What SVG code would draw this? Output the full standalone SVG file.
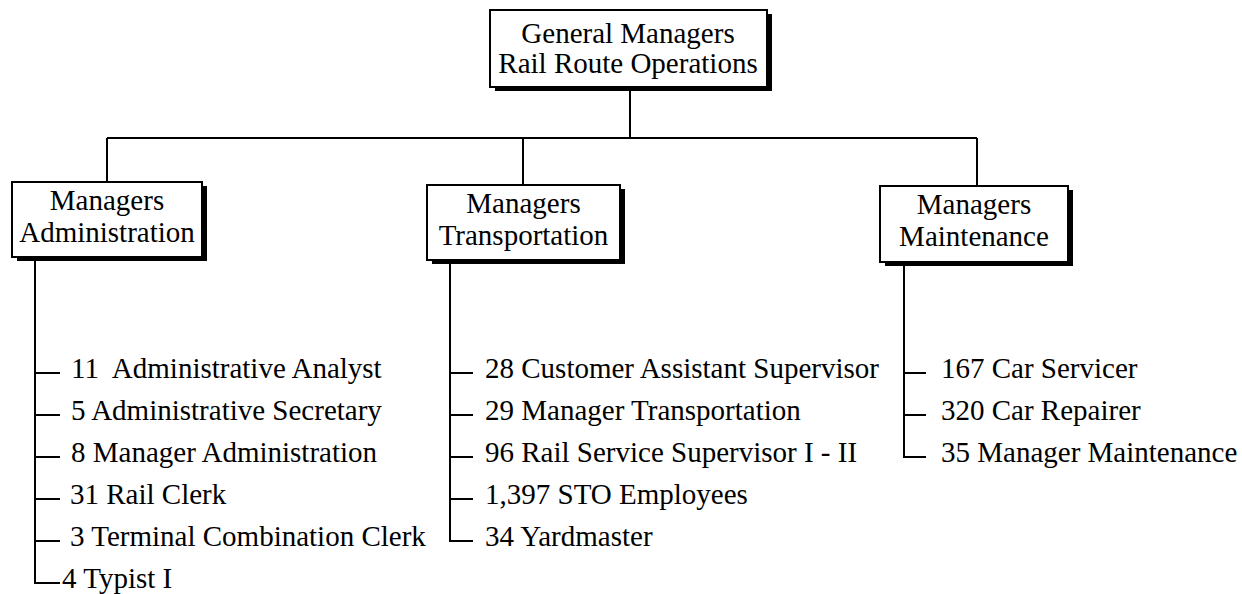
<svg xmlns="http://www.w3.org/2000/svg" width="1242" height="594" viewBox="0 0 1242 594">
<style>
  text { font-family: "Liberation Serif", "Times New Roman", serif; font-size: 29px; fill: #000; }
  .c { text-anchor: middle; }
  .box { fill: #fff; stroke: #000; stroke-width: 2; }
  .shadow { fill: #000; }
  .ln { fill: none; stroke: #000; stroke-width: 2; }
</style>
<rect width="1242" height="594" fill="#fff"/>
<g id="connectors">
  <path class="ln" d="M630 88 V138 M107 138 H977 M107 138 V182 M523 138 V185 M977 138 V186"/>
  <path class="ln" d="M35 257 V583 H60 M35 373 H60 M35 415 H60 M35 457 H60 M35 499 H60 M35 541 H60"/>
  <path class="ln" d="M450 260 V541 H473 M450 373 H473 M450 415 H473 M450 457 H473 M450 499 H473"/>
  <path class="ln" d="M904 262 V457 H926 M904 373 H926 M904 415 H926"/>
</g>
<g id="node-gm">
  <rect class="shadow" x="495" y="14" width="277" height="77"/>
  <rect class="box" x="490" y="10" width="277" height="77"/>
  <text class="c" x="628" y="43">General Managers</text>
  <text class="c" x="628" y="73">Rail Route Operations</text>
</g>
<g id="node-admin">
  <rect class="shadow" x="17" y="186" width="190" height="75"/>
  <rect class="box" x="12" y="182" width="190" height="75"/>
  <text class="c" x="107" y="210">Managers</text>
  <text class="c" x="107" y="242">Administration</text>
</g>
<g id="node-trans">
  <rect class="shadow" x="432" y="189" width="193" height="75"/>
  <rect class="box" x="427" y="185" width="193" height="75"/>
  <text class="c" x="523.5" y="213">Managers</text>
  <text class="c" x="523.5" y="245">Transportation</text>
</g>
<g id="node-maint">
  <rect class="shadow" x="885" y="190" width="188" height="76"/>
  <rect class="box" x="880" y="186" width="188" height="76"/>
  <text class="c" x="974" y="214">Managers</text>
  <text class="c" x="974" y="246">Maintenance</text>
</g>
<g id="list-admin">
  <text x="71" y="378" xml:space="preserve">11  Administrative Analyst</text>
  <text x="71" y="420">5 Administrative Secretary</text>
  <text x="71" y="462">8 Manager Administration</text>
  <text x="70" y="504">31 Rail Clerk</text>
  <text x="70" y="546">3 Terminal Combination Clerk</text>
  <text x="62" y="588">4 Typist I</text>
</g>
<g id="list-trans">
  <text x="485" y="378">28 Customer Assistant Supervisor</text>
  <text x="485" y="420">29 Manager Transportation</text>
  <text x="485" y="462">96 Rail Service Supervisor I - II</text>
  <text x="485" y="504">1,397 STO Employees</text>
  <text x="485" y="546">34 Yardmaster</text>
</g>
<g id="list-maint">
  <text x="941" y="378">167 Car Servicer</text>
  <text x="941" y="420">320 Car Repairer</text>
  <text x="941" y="462">35 Manager Maintenance</text>
</g>
</svg>
